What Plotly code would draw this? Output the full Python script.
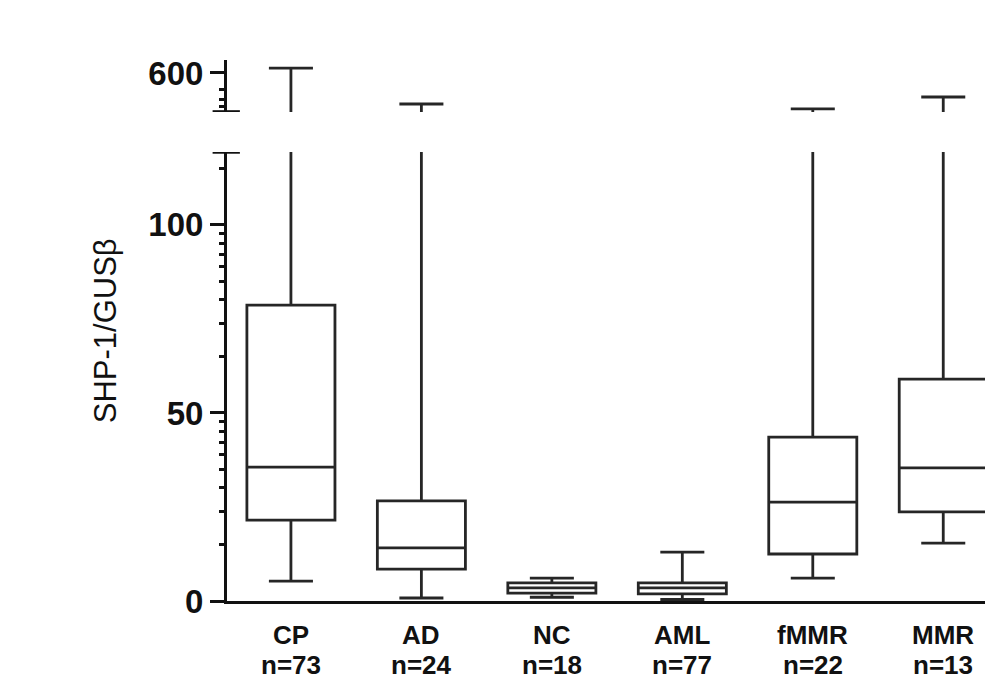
import math
import plotly.graph_objects as go

categories = ["CP", "AD", "NC", "AML", "fMMR", "MMR"]
n_counts = [73, 24, 18, 77, 22, 13]
q1 = [21.5, 8.5, 2.1, 1.9, 12.5, 23.7]
median = [35.6, 14.1, 3.5, 3.5, 26.3, 35.4]
q3 = [78.7, 26.6, 4.8, 4.8, 43.6, 59.0]
lower_whisker = [5.3, 0.8, 1.0, 0.4, 6.1, 15.4]
upper_whisker = [661, 218, 6.1, 13.0, 157, 304]

low_ticks = [0, 50, 100]
high_ticks = [600]

LINE = "#262626"
AX = "#111111"
FONT = "Liberation Sans, Arial, sans-serif"

xs = list(range(len(categories)))

LOW_RANGE = [0, 119.4]
HIGH_RANGE = [120, 760]
LOW_DOM = [0, 0.830]
HIGH_DOM = [0.904, 1.0]

fig = go.Figure()
for axis in ["y", "y2"]:
    fig.add_trace(go.Box(
        x=xs, q1=q1, median=median, q3=q3,
        lowerfence=lower_whisker, upperfence=upper_whisker,
        yaxis=axis, xaxis="x",
        fillcolor="white", line=dict(color=LINE, width=2.8),
        width=0.675, whiskerwidth=0.5, boxpoints=False,
        showlegend=False, hoverinfo="skip",
    ))

low_minor = [50 * math.log10(k) for k in range(2, 10)] + \
            [50 + 50 * math.log10(k) for k in range(2, 10)] + [100 + 50 * math.log10(2)]
high_minor = [181, 268, 391]

main_axis = dict(
    ticks="outside", ticklen=14, tickwidth=3, tickcolor=AX,
    showline=True, linecolor=AX, linewidth=3,
    showgrid=False, zeroline=False,
    tickfont=dict(family=FONT, size=33, color="#111"),
)
minor_axis = dict(
    ticks="outside", ticklen=7, tickwidth=2.5, tickcolor=AX,
    showline=False, showgrid=False, zeroline=False, showticklabels=False,
)

annotations = [
    dict(text="SHP-1/GUSβ", xref="paper", yref="paper",
         x=-0.16, y=0.50, textangle=-90, showarrow=False,
         xanchor="center", yanchor="middle",
         font=dict(family=FONT, size=31, color="#111")),
]
for x, c, n in zip(xs, categories, n_counts):
    annotations.append(dict(text=f"<b>{c}</b>", xref="x", yref="paper", x=x,
                            y=-0.0628, showarrow=False, xanchor="center", yanchor="middle",
                            font=dict(family=FONT, size=26, color="#111")))
    annotations.append(dict(text=f"<b>n={n}</b>", xref="x", yref="paper", x=x,
                            y=-0.1183, showarrow=False, xanchor="center", yanchor="middle",
                            font=dict(family=FONT, size=26, color="#111")))

fig.update_layout(
    width=985, height=699,
    margin=dict(l=227, r=0, t=60, b=98),
    paper_bgcolor="white", plot_bgcolor="white",
    xaxis=dict(
        range=[-0.49, 5.32], tickvals=xs, showticklabels=False,
        showline=True, linecolor=AX, linewidth=3, ticks="",
        showgrid=False, zeroline=False,
    ),
    yaxis=dict(domain=LOW_DOM, range=LOW_RANGE, tickvals=low_ticks,
               ticktext=[f"<b>{v}</b>" for v in low_ticks], **main_axis),
    yaxis2=dict(domain=HIGH_DOM, range=HIGH_RANGE, anchor="x", tickvals=high_ticks,
                ticktext=[f"<b>{v}</b>" for v in high_ticks], **main_axis),
    yaxis3=dict(domain=LOW_DOM, range=LOW_RANGE, anchor="x", overlaying="y",
                tickvals=low_minor, **minor_axis),
    yaxis4=dict(domain=HIGH_DOM, range=HIGH_RANGE, anchor="x", overlaying="y2",
                tickvals=high_minor, **minor_axis),
    shapes=[
        dict(type="line", xref="paper", yref="y", x0=-0.019, x1=0.017,
             y0=119.4, y1=119.4, line=dict(color=AX, width=3.5)),
        dict(type="line", xref="paper", yref="y2", x0=-0.019, x1=0.017,
             y0=120, y1=120, line=dict(color=AX, width=3.5)),
    ],
    annotations=annotations,
)

# invisible traces so overlay axes render
fig.add_trace(go.Scatter(x=[0], y=[1], yaxis="y3", mode="markers",
                         marker=dict(opacity=0), showlegend=False, hoverinfo="skip"))
fig.add_trace(go.Scatter(x=[0], y=[200], yaxis="y4", mode="markers",
                         marker=dict(opacity=0), showlegend=False, hoverinfo="skip"))

fig.write_html("out.html")
